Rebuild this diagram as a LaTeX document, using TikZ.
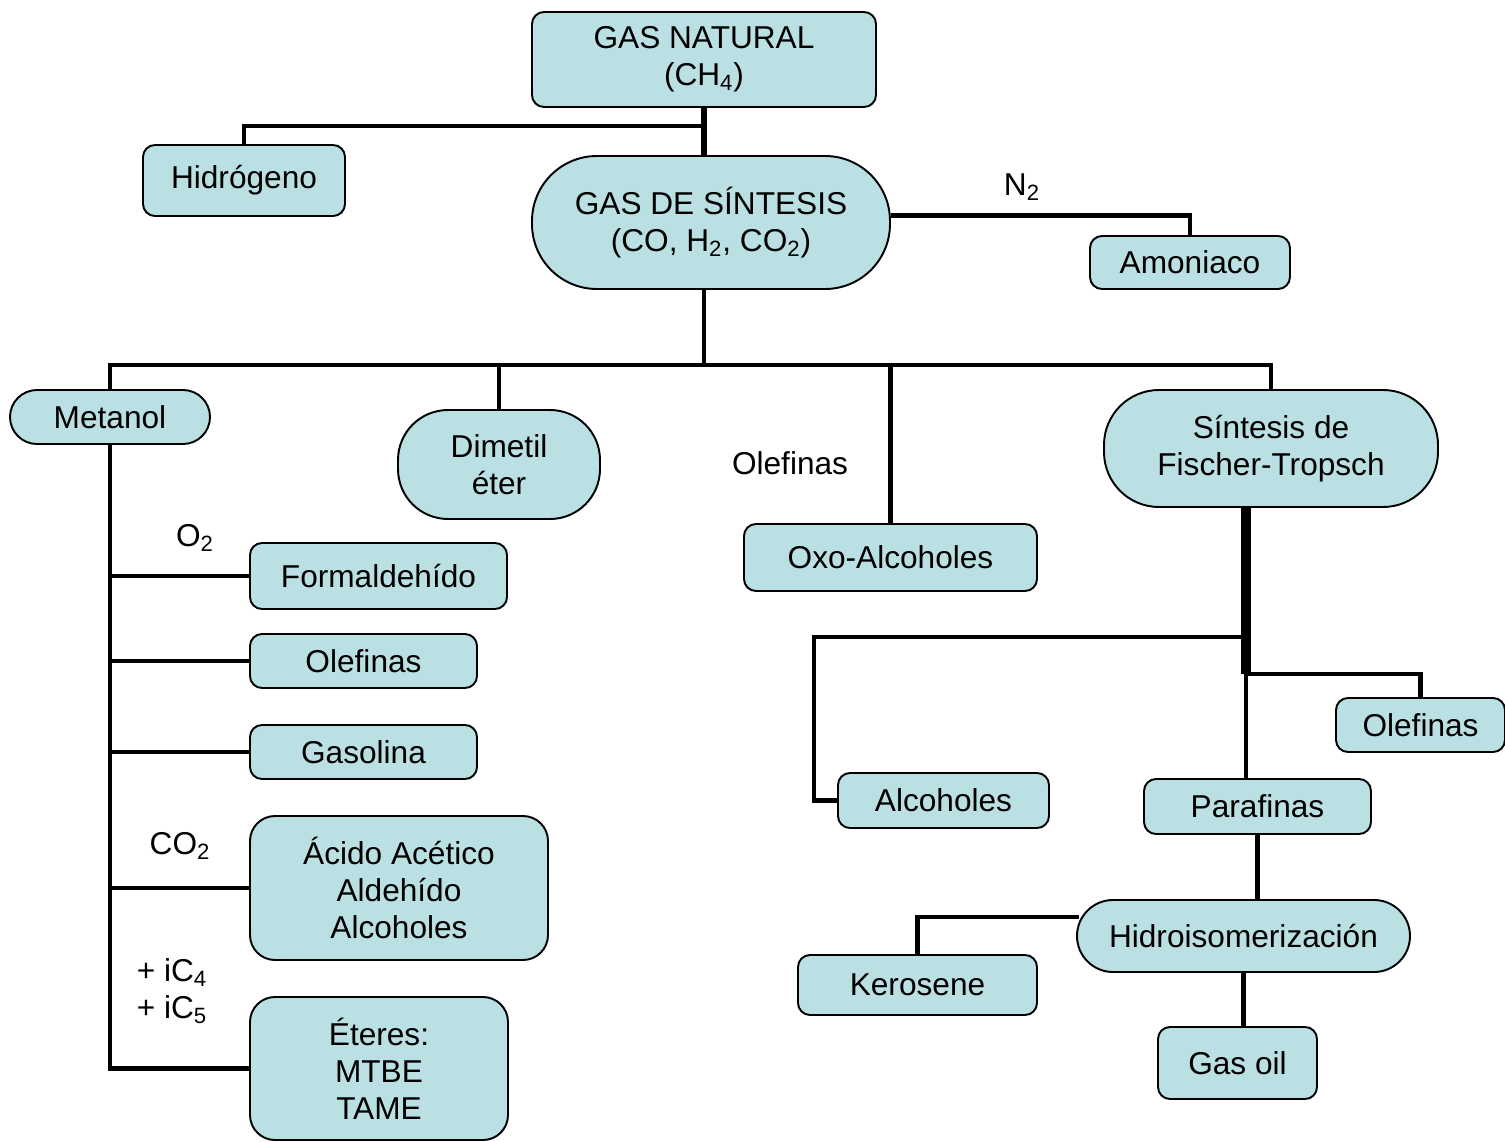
\documentclass[tikz,border=0pt]{standalone}
\usepackage{fontspec}
\setmainfont{Liberation Sans}
\usetikzlibrary{calc}
\definecolor{cajafill}{RGB}{187,224,227}

\begin{document}
\begin{tikzpicture}[x=0.02cm, y=-0.02cm, line width=2.8pt,
  caja/.style={draw, line width=1.1pt, fill=cajafill, rounded corners=#1,
    align=center, inner sep=0pt, font=\fontsize{18}{21}\selectfont},
  caja/.default=0.24cm,
  sz/.style 2 args={minimum width=#1*0.02cm, minimum height=#2*0.02cm},
  etiq/.style={inner sep=0pt, align=left, font=\fontsize{18}{21}\selectfont}]
  \useasboundingbox (0,0) rectangle (1505,1142);

  \node[caja, sz={344}{95}] (natural) at (704,59.5) {GAS NATURAL\\(CH\textsubscript{4})};
  \node[caja, sz={202}{71}] (hidrogeno) at (244,180.5) {Hidrógeno};
  \node[caja=1.3cm, sz={358}{133}] (sintesis) at (711,222.5) {GAS DE SÍNTESIS\\(CO, H\textsubscript{2}, CO\textsubscript{2})};
  \node[caja, sz={200}{53}] (amoniaco) at (1190,262.5) {Amoniaco};
  \node[caja=0.54cm, sz={200}{54}] (metanol) at (110,417) {Metanol};
  \node[caja=1.0cm, sz={202}{109}] (dimetil) at (499,464.5) {Dimetil\\éter};
  \node[caja=1.1cm, sz={334}{117}] (ft) at (1271,448.5) {Síntesis de\\Fischer-Tropsch};
  \node[caja, sz={257}{66}] (formal) at (378.5,576) {Formaldehído};
  \node[caja, sz={293}{67}] (oxo) at (890.5,557.5) {Oxo-Alcoholes};
  \node[caja, sz={227}{54}] (olefA) at (363.5,661) {Olefinas};
  \node[caja, sz={227}{54}] (gasolina) at (363.5,752) {Gasolina};
  \node[caja=0.5cm, sz={298}{144}] (acido) at (399,888) {Ácido Acético\\Aldehído\\Alcoholes};
  \node[caja=0.5cm, sz={258}{143}] (eteres) at (379,1068.5) {Éteres:\\MTBE\\TAME};
  \node[caja, sz={169}{54}] (olefB) at (1420.5,725) {Olefinas};
  \node[caja, sz={211}{55}] (alcoholes) at (943.5,800.5) {Alcoholes};
  \node[caja, sz={227}{55}] (parafinas) at (1257.5,806.5) {Parafinas};
  \node[caja=0.72cm, sz={333}{72}] (hidroiso) at (1243.5,936) {Hidroisomerización};
  \node[caja, sz={239}{60}] (kerosene) at (917.5,985) {Kerosene};
  \node[caja, sz={159}{72}] (gasoil) at (1237.5,1063) {Gas oil};

  \node[etiq] (n2) at (1022,187) {N\textsubscript{2}};
  \node[etiq] (olefL) at (790,463) {Olefinas};
  \node[etiq] (o2) at (195,538) {O\textsubscript{2}};
  \node[etiq] (co2) at (180,846) {CO\textsubscript{2}};
  \node[etiq] (ic) at (172,991) {+ iC\textsubscript{4}\\+ iC\textsubscript{5}};

  \coordinate (j1) at (704,126);
  \coordinate (bus) at (704,365);
  \coordinate (f1) at (1246,637);
  \coordinate (f2) at (1246,674);
  \coordinate (a1) at (814,637);

  \draw[line width=3.3pt] (natural.south) -- (natural.south |- sintesis.north);
  \draw (hidrogeno.north) |- (j1);
  \draw ($(sintesis.east)+(0,-7)$) -| (amoniaco.north);
  \draw (bus |- sintesis.south) -- (bus);
  \draw (metanol.north) |- (bus) -| (ft.north);
  \draw (dimetil.north) -- (dimetil.north |- bus);
  \draw (oxo.north) -- (oxo.north |- bus);

  \draw (metanol.south) |- (eteres.west);
  \draw (formal.west) -- (formal.west -| metanol.south);
  \draw (olefA.west) -- (olefA.west -| metanol.south);
  \draw (gasolina.west) -- (gasolina.west -| metanol.south);
  \draw (acido.west) -- (acido.west -| metanol.south);

  \draw[line width=5.5pt] (ft.south -| f1) -- (f2);
  \draw (f1) -- (a1) |- (alcoholes.west);
  \draw (f2) -| (olefB.north);
  \draw[line width=2.4pt] (f2) -- (f2 |- parafinas.north);
  \draw (parafinas.south) -- (parafinas.south |- hidroiso.north);
  \draw ($(hidroiso.west)+(3,-19)$) -| (kerosene.north);
  \draw (hidroiso.south) -- (hidroiso.south |- gasoil.north);
\end{tikzpicture}
\end{document}
